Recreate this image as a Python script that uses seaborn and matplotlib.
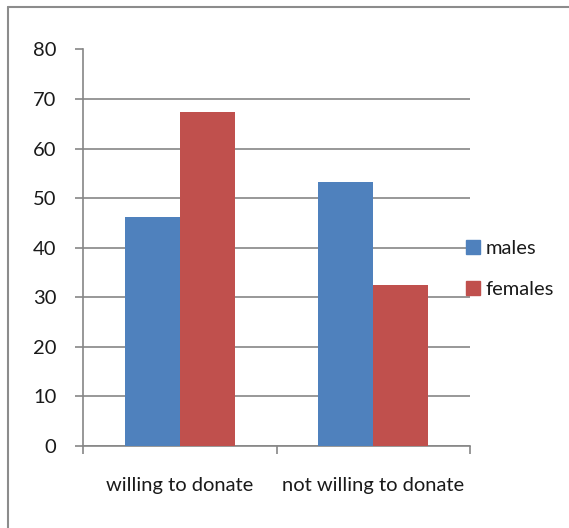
import pandas as pd
import matplotlib
matplotlib.use("Agg")
import matplotlib.pyplot as plt
from matplotlib.lines import Line2D
import seaborn as sns

# data
categories = ["willing to donate", "not willing to donate"]
males = [46.3, 53.3]
females = [67.3, 32.4]
series = ["males", "females"]
yticks = [0, 10, 20, 30, 40, 50, 60, 70, 80]

df = pd.DataFrame({
    "category": categories * 2,
    "value": males + females,
    "group": [series[0]] * len(categories) + [series[1]] * len(categories),
})

sns.set_style("white")
plt.rcParams["font.family"] = ["Lato", "DejaVu Sans"]

W, H = 569, 528
fig = plt.figure(figsize=(W / 100, H / 100), dpi=100)
ax = fig.add_axes([83 / W, 1 - 446 / H, (470 - 83) / W, (446 - 49.5) / H])

grid_c = "#868686"
txt_c = "#1a1a1a"
fs = 14.5
sns.barplot(data=df, x="category", y="value", hue="group",
            palette=["#4f81bd", "#c0504d"], width=0.57, saturation=1,
            linewidth=0, ax=ax, legend=False, zorder=3)

ax.set_ylim(0, 80)
ax.set_xlim(-0.5, 1.5)
ax.set_yticks(yticks)
ax.set_yticklabels([str(t) for t in yticks])
ax.yaxis.grid(True, color=grid_c, linewidth=1.2, zorder=0)
ax.set_axisbelow(True)
ax.set_xlabel("")
ax.set_ylabel("")

for s in ["top", "right"]:
    ax.spines[s].set_visible(False)
for s in ["left", "bottom"]:
    ax.spines[s].set_color(grid_c)
    ax.spines[s].set_linewidth(1.2)

ax.tick_params(axis="y", length=6, color=grid_c, width=1.2, labelsize=fs,
               pad=13, labelcolor=txt_c, left=True)
ax.tick_params(axis="x", length=0, labelsize=fs, pad=22, labelcolor=txt_c)
# category boundary ticks on x axis
ax.set_xticks([-0.5, 0.5, 1.5], minor=True)
ax.tick_params(axis="x", which="minor", length=6, color=grid_c, width=1.2, bottom=True)

handles = [Line2D([], [], marker="s", linestyle="", markersize=10,
                  markerfacecolor=c, markeredgecolor=c)
           for c in ["#4f81bd", "#c0504d"]]
fig.legend(handles, series, loc="center left",
           bbox_to_anchor=(445 / W, 1 - 269 / H), frameon=False,
           fontsize=fs, handletextpad=0.1, labelspacing=1.15,
           handlelength=1.0, labelcolor=txt_c)

# outer chart border (only left/top visible in the crop)
fig.add_artist(Line2D([8 / W, 8 / W], [0, 1 - 7 / H], transform=fig.transFigure,
                      color="#8c8c8c", linewidth=1.5))
fig.add_artist(Line2D([8 / W, 1], [1 - 7 / H, 1 - 7 / H], transform=fig.transFigure,
                      color="#8c8c8c", linewidth=1.5))

fig.savefig("out.png", dpi=100)
